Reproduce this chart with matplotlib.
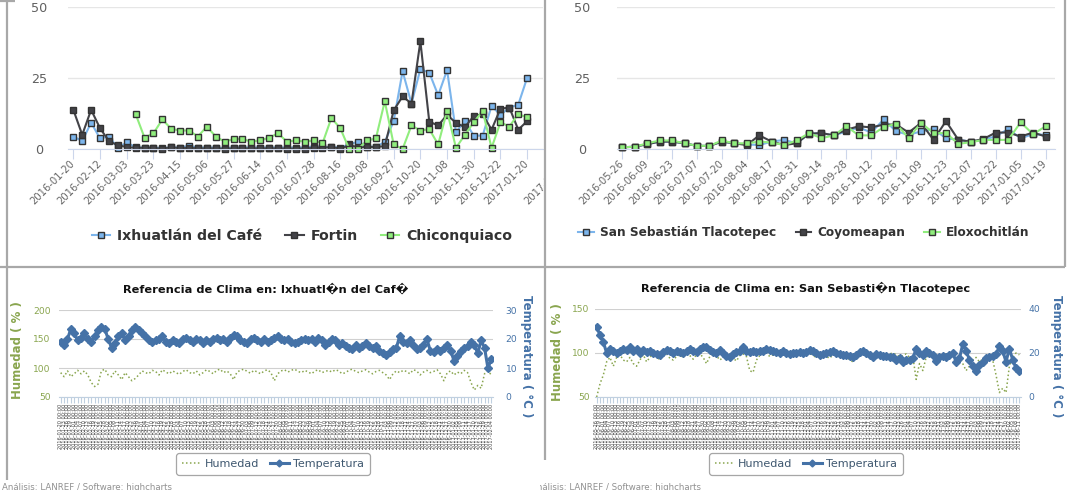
import numpy as np
import pandas as pd
import matplotlib
matplotlib.use("Agg")
import matplotlib.pyplot as plt
from matplotlib.patches import Rectangle
from matplotlib.transforms import Bbox, TransformedBbox, ScaledTranslation

W, H = 1068, 490

# ---------------- top-left: weekly values, three municipalities
TL_TICKS = ["2016-01-20", "2016-02-12", "2016-03-03", "2016-03-23", "2016-04-15",
            "2016-05-06", "2016-05-27", "2016-06-14", "2016-07-07", "2016-07-28",
            "2016-08-16", "2016-09-08", "2016-09-27", "2016-10-20", "2016-11-08",
            "2016-11-30", "2016-12-22", "2017-01-20"]
IXHUATLAN = [4.4, 2.8, 9.3, 3.7, 4.4, 0.4, 2.3, 0.6, 0.5, 0.5, 0.3, 0.6, 0.5, 1.1, 0.5,
             0.5, 0.5, 0.3, 0.5, 0.5, 0.5, 0.5, 0.5, 0.5, 0.5, 0.5, 0.5, 0.8, 0.6, 0.7,
             0.5, 1.6, 2.6, 0.8, 0.8, 2.5, 9.8, 27.4, 16.0, 28.1, 26.9, 18.9, 27.8, 5.9,
             9.8, 4.7, 4.7, 15.2, 12.0, 14.6, 15.6, 25.1]
FORTIN = [13.8, 5.0, 13.8, 7.3, 2.8, 1.3, 0.7, 0.4, 0.4, 0.4, 0.0, 0.7, 0.2, 0.4, 0.2,
          0.2, 0.2, 0.0, 0.2, 0.2, 0.2, 0.2, 0.2, 0.2, 0.1, 0.1, 0.1, 0.4, 0.4, 0.7,
          0.1, 1.3, 0.7, 0.7, 0.7, 1.0, 13.6, 18.5, 16.0, 37.9, 9.6, 8.3, 12.0, 9.2,
          7.7, 11.6, 12.2, 6.8, 14.2, 14.6, 6.8, 9.8]
CHICONQUIACO = [np.nan] * 7 + [12.3, 4.0, 5.5, 10.4, 7.1, 6.5, 6.5, 4.4, 7.9, 4.4, 2.6,
                               3.5, 3.5, 2.6, 3.0, 4.0, 5.5, 2.6, 3.0, 2.6, 3.0, 2.0, 10.9,
                               7.3, 0.0, 0.0, 3.0, 3.7, 16.8, 1.6, 0.0, 8.3, 6.5, 7.0, 1.6,
                               13.4, 0.4, 5.0, 9.4, 13.4, 0.4, 9.4, 7.9, 12.3, 11.1]

# ---------------- top-right
TR_TICKS = ["2016-05-26", "2016-06-09", "2016-06-23", "2016-07-07", "2016-07-20",
            "2016-08-04", "2016-08-17", "2016-08-31", "2016-09-14", "2016-09-28",
            "2016-10-12", "2016-10-26", "2016-11-09", "2016-11-23", "2016-12-07",
            "2016-12-22", "2017-01-05", "2017-01-19"]
SAN_SEBASTIAN = [0.6, 0.8, 1.7, 2.6, 2.6, 2.0, 1.1, 1.1, 2.6, 2.0, 1.6, 1.4, 2.6, 3.2,
                 2.0, 5.4, 5.6, 4.8, 6.2, 7.6, 5.8, 10.4, 6.2, 5.0, 6.2, 7.0, 3.8, 3.2,
                 2.6, 3.2, 4.5, 7.0, 3.8, 5.2, 5.0]
COYOMEAPAN = [0.6, 0.8, 1.7, 2.6, 2.6, 2.0, 1.1, 1.1, 2.6, 2.0, 1.4, 4.8, 2.6, 1.4,
              2.0, 5.4, 5.6, 4.8, 6.8, 8.0, 7.6, 8.6, 8.6, 5.8, 9.2, 3.2, 9.8, 3.2,
              2.6, 3.5, 5.8, 5.8, 4.4, 5.8, 4.4]
ELOXOCHITLAN = [0.6, 0.8, 2.0, 3.0, 3.0, 2.0, 1.1, 1.1, 3.0, 2.0, 2.0, 2.6, 2.3, 1.4,
                3.0, 5.6, 3.8, 4.8, 8.0, 4.8, 4.8, 7.7, 8.9, 3.8, 9.2, 5.6, 5.6, 1.8,
                2.4, 3.2, 3.2, 3.2, 9.4, 5.2, 8.0]

# ---------------- bottom-left climate: Ixhuatlán del Café
TEMP_IXH = [19, 18, 20, 23.5, 22, 19.5, 20.5, 22, 20, 19,
            21, 23, 24, 23.5, 20, 17, 18.5, 21, 22, 19.5,
            21, 23, 24, 23, 22, 21, 19.5, 19, 19.5, 20,
            21, 19, 18.5, 19.5, 19, 18.5, 20, 20.5, 19.5, 19,
            20, 19.5, 18.5, 19.5, 19, 20, 20.5, 19.5, 20, 19,
            20.5, 21.5, 21, 19.5, 19, 18.5, 20, 20.5, 19.5, 19,
            20, 19, 19.5, 20.5, 21, 20, 19.5, 20, 19, 18.5,
            19, 19.5, 20, 19.5, 20, 19, 20.5, 19.5, 18, 19,
            20, 19.5, 18, 18.5, 17.5, 17, 16.5, 18, 17, 17.5,
            18.5, 17.5, 17, 17.5, 16, 15, 14.5, 15.5, 16.5, 17,
            21, 19, 18.5, 19.5, 18, 16.5, 17, 18, 20, 16,
            15.5, 16.5, 16, 17, 18, 16, 12.5, 14, 16, 17,
            17.5, 19, 18, 15, 19.5, 17, 10, 13]
HUM_IXH = [92, 85, 95, 85, 90, 96, 90, 95, 88, 75,
           68, 72, 95, 98, 88, 85, 95, 88, 80, 92,
           85, 78, 82, 88, 95, 92, 90, 96, 94, 88,
           97, 93, 90, 95, 92, 89, 94, 97, 92, 90,
           95, 88, 92, 97, 94, 90, 96, 98, 92, 95,
           90, 80, 93, 96, 98, 94, 91, 96, 93, 90,
           95, 97, 92, 78, 90, 95, 97, 93, 96, 98,
           94, 92, 96, 93, 90, 95, 97, 92, 94, 96,
           93, 97, 95, 90, 92, 96, 98, 94, 92, 95,
           97, 93, 90, 94, 96, 92, 88, 80, 90, 95,
           92, 96, 94, 90, 97, 95, 88, 93, 96, 92,
           94, 97, 90, 78, 92, 95, 88, 93, 90, 96,
           92, 75, 62, 70, 65, 90, 95, 88]
IXH_START = "2016-01-20"

# ---------------- bottom-right climate: San Sebastián Tlacotepec
TEMP_SST = [32, 28, 25, 20,
            22, 21, 20, 21, 22, 21.5, 22.5, 21, 22, 20,
            21.5, 20.5, 21, 20, 19.5, 19, 20.5, 21.5, 21, 20,
            21, 20.5, 20, 21, 22, 21, 20.5, 22, 22.5, 22.5,
            21.5, 20.5, 20, 21.5, 20, 18.5, 18, 19.5, 20.5, 21,
            22.5, 21, 20.5, 21, 20.5, 21, 21, 22, 21.5, 21,
            20.5, 20, 21, 20, 19.5, 20, 20, 20.5, 20, 20.5,
            21.5, 21, 20, 19, 19.5, 20, 20.5, 21, 20, 19.5,
            19, 19, 18.5, 18, 19, 20.5, 21, 20, 19, 18,
            19.5, 19, 18.5, 18.5, 18, 18, 17, 17.5, 16, 17,
            17, 17.5, 22, 20, 19, 21, 20, 19, 16.5, 18,
            18.5, 18, 19, 20, 16, 17.5, 24, 21, 17, 14,
            12, 14.5, 16, 17.5, 18, 18.5, 19.5, 23, 21, 16,
            22, 17, 13, 12]
HUM_SST = [50, 65, 75, 90,
           95, 85, 95, 98, 92, 90, 95, 88, 85, 92,
           98, 90, 95, 100, 96, 92, 97, 99, 94, 92,
           96, 98, 95, 100, 97, 93, 98, 99, 95, 88,
           96, 99, 97, 92, 95, 98, 100, 94, 91, 97,
           99, 96, 80, 78, 92, 97, 99, 100, 96, 98,
           97, 99, 100, 98, 96, 99, 100, 97, 99, 98,
           100, 97, 95, 98, 99, 96, 94, 98, 100, 97,
           95, 98, 92, 90, 96, 99, 100, 97, 95, 98,
           99, 100, 97, 96, 99, 100, 98, 96, 97, 99,
           95, 96, 70, 88, 80, 95, 97, 99, 96, 92,
           97, 99, 95, 98, 90, 96, 88, 80, 85, 92,
           95, 90, 93, 96, 95, 92, 75, 55, 60, 55,
           85, 95, 100, 98]
SST_START = "2016-05-26"

BLUE, DARK, GREEN = "#7cb5ec", "#434348", "#90ed7d"
HUM_C, TEMP_C = "#89A54E", "#4572A7"


def px_box(x0, y0, x1, y1):
    # pixel box (origin top-left) -> figure fraction rect
    return [x0 / W, 1 - y1 / H, (x1 - x0) / W, (y1 - y0) / H]


def fig_clip(x0, y0, x1, y1):
    return TransformedBbox(Bbox([[x0 / W, 1 - y1 / H], [x1 / W, 1 - y0 / H]]), fig.transFigure)


fig = plt.figure(figsize=(W / 100, H / 100), dpi=100)


def top_chart(rect, series, ticks, step, xlim, ylab_pad):
    ax = fig.add_axes(px_box(*rect))
    for name, vals, col in series:
        ax.plot(np.arange(len(vals)), vals, color=col, lw=1.5, marker="s", ms=5,
                mfc=col, mec="#333333", mew=1.0, clip_on=False, label=name)
    ax.set_xlim(*xlim)
    ax.set_ylim(0, 50)
    ax.set_yticks([0, 25, 50])
    ax.grid(axis="y", color="#e6e6e6", lw=1)
    ax.set_axisbelow(True)
    for s in ("top", "right", "left"):
        ax.spines[s].set_visible(False)
    ax.spines["bottom"].set_color("#ccd6eb")
    ax.set_xticks(np.arange(len(ticks)) * step)
    ax.set_xticklabels(ticks, rotation=45, ha="right", va="center",
                       rotation_mode="anchor", fontsize=7.2, color="#666666")
    ax.tick_params(axis="x", length=7.5, color="#ccd6eb", pad=2)
    ax.tick_params(axis="y", length=0, pad=ylab_pad, labelsize=9.2, labelcolor="#606060")
    for t in ax.get_yticklabels():
        t.set_ha("center")
    return ax


ax_tl = top_chart((68, 7, 543, 149),
                  [("Ixhuatlán del Café", IXHUATLAN, BLUE),
                   ("Fortin", FORTIN, DARK),
                   ("Chiconquiaco", CHICONQUIACO, GREEN)],
                  TL_TICKS, 3, (-0.6, 52.78), 21)
# next label, cut by the neighbouring panel
t = fig.text(55.5, 0, "2017-02-09", rotation=45, ha="right", va="center",
             rotation_mode="anchor", fontsize=7.2, color="#666666",
             transform=ax_tl.get_xaxis_transform()
             + ScaledTranslation(0, -9.5 / 72, fig.dpi_scale_trans))
t.set_clip_box(fig_clip(7, 0, 544, 267))
t.set_clip_on(True)

ax_tr = top_chart((617, 7, 1055, 149),
                  [("San Sebastián Tlacotepec", SAN_SEBASTIAN, BLUE),
                   ("Coyomeapan", COYOMEAPAN, DARK),
                   ("Eloxochitlán", ELOXOCHITLAN, GREEN)],
                  TR_TICKS, 2, (-0.43, 34.76), 25)

fig.legend(handles=ax_tl.get_lines(), loc="center", bbox_to_anchor=(302 / W, 1 - 236 / H),
           ncol=3, frameon=False, prop={"weight": "bold", "size": 10.2},
           labelcolor="#333333", handlelength=1.3, handletextpad=0.5, columnspacing=1.6)
fig.legend(handles=ax_tr.get_lines(), loc="center", bbox_to_anchor=(804 / W, 1 - 233 / H),
           ncol=3, frameon=False, prop={"weight": "bold", "size": 8.7},
           labelcolor="#333333", handlelength=1.3, handletextpad=0.5, columnspacing=1.6)


def bottom_chart(rect, hum, temp, start, hlim, hticks, tlim, tticks, lpad, rpad, leg_c):
    ax = fig.add_axes(px_box(*rect))
    x = np.arange(len(hum))
    h1, = ax.plot(x, hum, color=HUM_C, lw=1.1, ls=(0, (1, 1.6)), label="Humedad")
    ax.set_xlim(-0.5, len(hum) - 0.5)
    ax.set_ylim(*hlim)
    ax.set_yticks(hticks)
    ax.grid(axis="y", color="#d0d0d0", lw=0.8)
    ax.set_axisbelow(True)
    for s in ("top", "right", "left"):
        ax.spines[s].set_visible(False)
    ax.spines["bottom"].set_color("#C0D0E0")
    labels = pd.date_range(start, periods=len(hum), freq="3D").strftime("%Y-%m-%d %H:%M")
    ax.set_xticks(x)
    ax.set_xticklabels(labels, rotation=90, fontsize=3.6, color="#444444")
    ax.tick_params(axis="x", length=4, width=0.8, color="#C0D0E0", pad=1)
    ax.tick_params(axis="y", length=0, pad=lpad, labelsize=6.6, labelcolor=HUM_C)

    ax2 = ax.twinx()
    h2, = ax2.plot(x, temp, color=TEMP_C, lw=2.2, marker="D", ms=4.4, label="Temperatura")
    ax2.set_ylim(*tlim)
    ax2.set_yticks(tticks)
    for s in ax2.spines.values():
        s.set_visible(False)
    ax2.tick_params(axis="y", length=0, pad=rpad, labelsize=6.6, labelcolor=TEMP_C)

    leg = fig.legend(handles=[h1, h2], loc="center",
                     bbox_to_anchor=(leg_c[0] / W, 1 - leg_c[1] / H), ncol=2,
                     fontsize=8, frameon=True, fancybox=True, edgecolor="#909090",
                     labelcolor="#3E576F", handlelength=1.7, handletextpad=0.4,
                     columnspacing=0.9, borderpad=0.5, markerscale=0.8)
    leg.get_frame().set_linewidth(0.9)
    return ax


bottom_chart((59, 310, 493, 397), HUM_IXH, TEMP_IXH, IXH_START,
             (50, 200), [50, 100, 150, 200], (0, 30), [0, 10, 20, 30], 6, 9, (273, 464))
bottom_chart((595, 309, 1021, 397), HUM_SST, TEMP_SST, SST_START,
             (50, 150), [50, 100, 150], (0, 40), [0, 20, 40], 4, 5.5, (806, 464))

# overlay in pixel coordinates: titles, axis titles, credits, panel borders
ov = fig.add_axes([0, 0, 1, 1], zorder=10)
ov.set_xlim(0, W)
ov.set_ylim(H, 0)
ov.axis("off")

ov.text(266, 289, "Referencia de Clima en: Ixhuatl\ufffdn del Caf\ufffd", ha="center",
        va="center", fontsize=8.2, fontweight="bold", color="#111111")
ov.text(806, 288, "Referencia de Clima en: San Sebasti\ufffdn Tlacotepec", ha="center",
        va="center", fontsize=8.2, fontweight="bold", color="#111111")

for x, y, s, c, r in [(18, 350, "Humedad ( % )", HUM_C, 90),
                      (527, 356, "Temperatura ( °C )", TEMP_C, 270),
                      (558, 352, "Humedad ( % )", HUM_C, 90),
                      (1056, 356, "Temperatura ( °C )", TEMP_C, 270)]:
    ov.text(x, y, s, rotation=r, ha="center", va="center", fontsize=8.5,
            fontweight="bold", color=c)

credit = "Análisis: LANREF / Software: highcharts"
ov.text(2, 487, credit, ha="left", va="center", fontsize=6.2, color="#909090")
c2 = ov.text(531, 487, credit, ha="left", va="center", fontsize=6.2, color="#909090",
             clip_on=True)
c2.set_clip_path(Rectangle((540, 470), 528, 20, transform=ov.transData))

border = dict(color="#a8a8a8", lw=1.6, solid_capstyle="butt")
ov.plot([7, 7], [0, 480], **border)
ov.plot([545, 545], [0, 460], **border)
ov.plot([0, 1065], [267, 267], **border)
ov.plot([1065, 1065], [0, 267], **border)
ov.plot([0, 15], [1, 1], **border)

fig.savefig("out.png", dpi=100)
